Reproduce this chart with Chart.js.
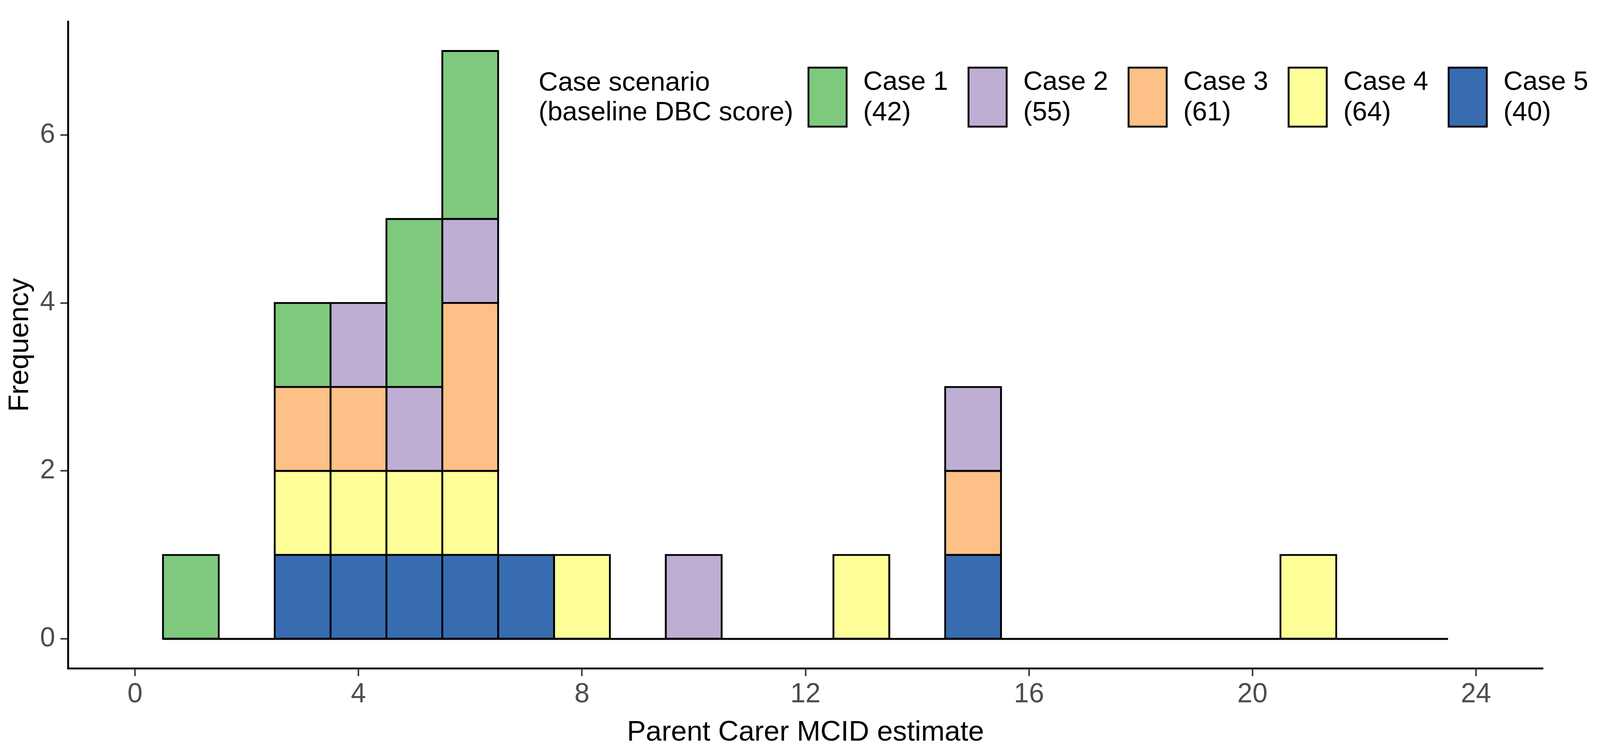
<!DOCTYPE html>
<html>
<head>
<meta charset="utf-8">
<script src="https://cdn.jsdelivr.net/npm/chart.js@4.4.0/dist/chart.umd.min.js"></script>
<style>
  html, body { margin: 0; padding: 0; background: #fff; overflow: hidden; }
  #wrap { position: relative; width: 100vw; height: 100vh; }
</style>
</head>
<body>
<div id="wrap"><canvas id="histChart"></canvas></div>
<script>
// bin centres of the histogram (MCID estimate)
const bins = [1, 2, 3, 4, 5, 6, 7, 8, 9, 10, 11, 12, 13, 14, 15, 16, 17, 18, 19, 20, 21, 22, 23];
const binWidth = 1;

const caseNames = ["Case 1", "Case 2", "Case 3", "Case 4", "Case 5"];
const baselineScores = [42, 55, 61, 64, 40];
const caseColors = ["#7FC97F", "#BEAED4", "#FDC086", "#FFFF99", "#386CB0"];

// counts per bin, one array per case scenario
const case1 = [1, 0, 1, 0, 2, 2, 0, 0, 0, 0, 0, 0, 0, 0, 0, 0, 0, 0, 0, 0, 0, 0, 0];
const case2 = [0, 0, 0, 1, 1, 1, 0, 0, 0, 1, 0, 0, 0, 0, 1, 0, 0, 0, 0, 0, 0, 0, 0];
const case3 = [0, 0, 1, 1, 0, 2, 0, 0, 0, 0, 0, 0, 0, 0, 1, 0, 0, 0, 0, 0, 0, 0, 0];
const case4 = [0, 0, 1, 1, 1, 1, 0, 1, 0, 0, 0, 0, 1, 0, 0, 0, 0, 0, 0, 0, 1, 0, 0];
const case5 = [0, 0, 1, 1, 1, 1, 1, 0, 0, 0, 0, 0, 0, 0, 1, 0, 0, 0, 0, 0, 0, 0, 0];
const caseCounts = [case1, case2, case3, case4, case5];

const xTicks = [0, 4, 8, 12, 16, 20, 24];
const yTicks = [0, 2, 4, 6];

const legendTitle = ["Case scenario", "(baseline DBC score)"];

// layout is measured on a 4239 x 1919 picture and scaled to the window
const W0 = 4239, H0 = 1919;
const sx = window.innerWidth / W0;
const sy = window.innerHeight / H0;
const sk = Math.min(sx, sy);
const FONT = '"Liberation Sans", Arial, sans-serif';
const LINE_W = 5 * sk;

// stack bottom -> top: Case 5, Case 4, Case 3, Case 2, Case 1
const barSets = caseNames.map((name, i) => ({
  type: "bar",
  label: name,
  data: bins.map((b, j) => ({ x: b, y: caseCounts[i][j] || null })),
  backgroundColor: caseColors[i],
  borderColor: "#000",
  borderWidth: LINE_W,
  borderSkipped: false,
  inflateAmount: LINE_W / 2,
  barPercentage: 1,
  categoryPercentage: 1,
  stack: "cases"
})).reverse();

// empty bins are drawn as a flat line along zero, as ggplot does
const baseline = {
  type: "line",
  label: "baseline",
  data: [
    { x: bins[0] - binWidth / 2, y: 0 },
    { x: bins[bins.length - 1] + binWidth / 2, y: 0 }
  ],
  borderColor: "#000",
  borderWidth: LINE_W,
  pointRadius: 0,
  stack: "base",
  order: 1
};

const legendPlugin = {
  id: "caseLegend",
  afterDraw(chart) {
    const ctx = chart.ctx;
    const fx = chart.width / W0, fy = chart.height / H0, fk = Math.min(fx, fy);
    ctx.save();
    ctx.font = (71 * fk) + "px " + FONT;
    ctx.fillStyle = "#000";
    ctx.textAlign = "left";
    ctx.textBaseline = "middle";
    ctx.fillText(legendTitle[0], 1427 * fx, 213 * fy);
    ctx.fillText(legendTitle[1], 1427 * fx, 289 * fy);
    caseNames.forEach((name, i) => {
      const x = (2142 + i * 424) * fx;
      ctx.fillStyle = caseColors[i];
      ctx.fillRect(x, 173 * fy, 101 * fx, 151 * fy);
      ctx.strokeStyle = "#000";
      ctx.lineWidth = 5 * fk;
      ctx.strokeRect(x, 173 * fy, 101 * fx, 151 * fy);
      ctx.fillStyle = "#000";
      ctx.fillText(name, x + 145 * fx, 211 * fy);
      ctx.fillText("(" + baselineScores[i] + ")", x + 145 * fx, 289 * fy);
    });
    ctx.restore();
  }
};

new Chart(document.getElementById("histChart"), {
  type: "bar",
  data: { datasets: [baseline, ...barSets] },
  options: {
    responsive: true,
    maintainAspectRatio: false,
    animation: false,
    layout: { padding: { left: 0, top: 15 * sy, right: 151 * sx, bottom: 0 } },
    plugins: { legend: { display: false }, tooltip: { enabled: false } },
    scales: {
      x: {
        type: "linear",
        stacked: true,
        offset: false,
        min: -1.2, max: 25.2,
        afterBuildTicks: s => { s.ticks = xTicks.map(v => ({ value: v })); },
        afterFit: s => { s.height = 209 * sy; },
        grid: { display: true, offset: false, drawOnChartArea: false, drawTicks: true,
                tickLength: 20 * sy, tickWidth: 4 * sk, tickColor: "#333333" },
        border: { display: true, color: "#000", width: LINE_W },
        ticks: { color: "#4D4D4D", font: { family: FONT, size: 72 * sk }, padding: 6 * sy, maxRotation: 0 },
        title: { display: true, text: "Parent Carer MCID estimate", color: "#000",
                 font: { family: FONT, size: 75 * sk, lineHeight: 1 }, padding: { bottom: 8 * sy } }
      },
      y: {
        type: "linear",
        stacked: true,
        min: -0.35, max: 7.35,
        afterBuildTicks: s => { s.ticks = yTicks.map(v => ({ value: v })); },
        afterFit: s => { s.width = 180 * sx; },
        grid: { display: true, drawOnChartArea: false, drawTicks: true,
                tickLength: 20 * sx, tickWidth: 4 * sk, tickColor: "#333333" },
        border: { display: true, color: "#000", width: LINE_W },
        ticks: { color: "#4D4D4D", font: { family: FONT, size: 72 * sk }, padding: 14 * sx },
        title: { display: true, text: "Frequency", color: "#000",
                 font: { family: FONT, size: 75 * sk, lineHeight: 1 }, padding: { top: 16 * sx } }
      }
    }
  },
  plugins: [legendPlugin]
});
</script>
</body>
</html>
